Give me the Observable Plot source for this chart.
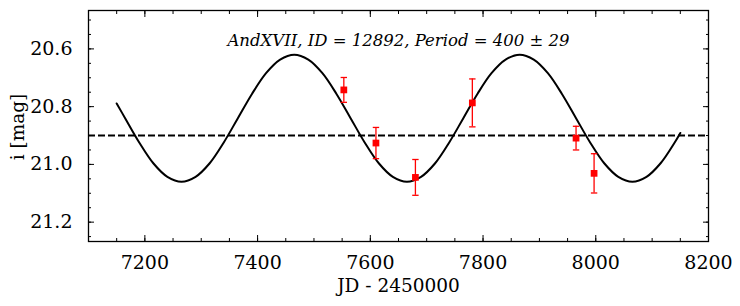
<!DOCTYPE html>
<html>
<head>
<meta charset="utf-8">
<script src="https://cdn.jsdelivr.net/npm/d3@7"></script>
<script src="https://cdn.jsdelivr.net/npm/@observablehq/plot@0.6"></script>
<style>
  html, body { margin: 0; padding: 0; background: #fff; }
  #chart { width: 740px; height: 306px; }
  #chart svg, #chart svg text { font-family: "DejaVu Serif", serif !important; }
</style>
</head>
<body>
<div id="chart"></div>
<script>
// Observations (JD - 2450000, i mag, error)
const obsJD  = [7553, 7610, 7680, 7781, 7965, 7997];
const obsMag = [20.742, 20.926, 21.045, 20.787, 20.909, 21.031];
const obsErr = [0.043, 0.054, 0.062, 0.083, 0.041, 0.068];

// Model curve
const curveJD = [7150, 7165, 7190, 7215, 7240, 7265, 7290, 7315, 7340, 7365, 7390, 7415, 7440, 7465, 7490, 7515, 7540, 7565, 7590, 7615, 7640, 7665, 7690, 7715, 7740, 7765, 7790, 7815, 7840, 7865, 7890, 7915, 7940, 7965, 7990, 8015, 8040, 8065, 8090, 8115, 8140, 8150];
const curveMag = [20.789, 20.840, 20.924, 20.996, 21.043, 21.060, 21.043, 20.996, 20.924, 20.840, 20.756, 20.684, 20.637, 20.620, 20.637, 20.684, 20.756, 20.840, 20.924, 20.996, 21.043, 21.060, 21.043, 20.996, 20.924, 20.840, 20.756, 20.684, 20.637, 20.620, 20.637, 20.684, 20.756, 20.840, 20.924, 20.996, 21.043, 21.060, 21.043, 20.996, 20.924, 20.891];

const meanMag = [20.9];

const xMajor = [7200, 7400, 7600, 7800, 8000, 8200];
const xMinor = [7100, 7150, 7200, 7250, 7300, 7350, 7400, 7450, 7500, 7550, 7600, 7650, 7700, 7750, 7800, 7850, 7900, 7950, 8000, 8050, 8100, 8150, 8200];
const yMajor = [20.6, 20.8, 21.0, 21.2];
const yMinor = [20.5, 20.55, 20.6, 20.65, 20.7, 20.75, 20.8, 20.85, 20.9, 20.95, 21.0, 21.05, 21.1, 21.15, 21.2, 21.25];

const titleText = "AndXVII, ID = 12892, Period = 400 ± 29";
const xLabel = "JD - 2450000";
const yLabel = "i [mag]";

const obs = obsJD.map((x, i) => ({x, y: obsMag[i], e: obsErr[i]}));
const curve = curveJD.map((x, i) => ({x, y: curveMag[i]}));

const noText = () => "";
// horizontal cap symbol for error bars
const capSymbol = {draw(ctx) { ctx.moveTo(-3.2, 0); ctx.lineTo(3.2, 0); }};

const plot = Plot.plot({
  width: 740,
  height: 306,
  marginLeft: 88,
  marginRight: 32,
  marginTop: 10,
  marginBottom: 65,
  style: {fontFamily: "'DejaVu Serif', serif", fontSize: "18px", color: "black", background: "white"},
  x: {type: "linear", domain: [7100, 8200]},
  y: {type: "linear", domain: [20.467, 21.267], reverse: true},
  marks: [
    // minor ticks
    Plot.axisX(xMinor, {anchor: "bottom", tickSize: -3, tickFormat: noText, label: null, strokeWidth: 1}),
    Plot.axisX(xMinor, {anchor: "top", tickSize: -3, tickFormat: noText, label: null, strokeWidth: 1}),
    Plot.axisY(yMinor, {anchor: "left", tickSize: -3, tickFormat: noText, label: null, strokeWidth: 1}),
    Plot.axisY(yMinor, {anchor: "right", tickSize: -3, tickFormat: noText, label: null, strokeWidth: 1}),
    // major ticks
    Plot.axisX(xMajor, {anchor: "bottom", tickSize: -6, tickFormat: noText, label: null, strokeWidth: 1}),
    Plot.axisX(xMajor, {anchor: "top", tickSize: -6, tickFormat: noText, label: null, strokeWidth: 1}),
    Plot.axisY(yMajor, {anchor: "left", tickSize: -6, tickFormat: noText, label: null, strokeWidth: 1}),
    Plot.axisY(yMajor, {anchor: "right", tickSize: -6, tickFormat: noText, label: null, strokeWidth: 1}),
    // tick labels
    Plot.axisX(xMajor, {anchor: "bottom", tickSize: 0, tickPadding: 14, tickFormat: d => String(d), label: null, fontSize: 19}),
    Plot.axisY(yMajor, {anchor: "left", tickSize: 0, tickPadding: 16, tickFormat: d => d.toFixed(1), label: null, fontSize: 19}),
    // mean line
    Plot.ruleY(meanMag, {stroke: "black", strokeWidth: 2, strokeDasharray: "7,3"}),
    // model
    Plot.line(curve, {x: "x", y: "y", stroke: "black", strokeWidth: 2, curve: "catmull-rom"}),
    // error bars
    Plot.ruleX(obs, {x: "x", y1: d => d.y - d.e, y2: d => d.y + d.e, stroke: "#ff0000", strokeWidth: 1.3}),
    Plot.dot(obs, {x: "x", y: d => d.y - d.e, symbol: capSymbol, r: 4, fill: "none", stroke: "#ff0000", strokeWidth: 1.3}),
    Plot.dot(obs, {x: "x", y: d => d.y + d.e, symbol: capSymbol, r: 4, fill: "none", stroke: "#ff0000", strokeWidth: 1.3}),
    Plot.dot(obs, {x: "x", y: "y", symbol: "square", r: 3.8, fill: "#ff0000", stroke: "none"}),
    Plot.frame({stroke: "black", strokeWidth: 1.3}),
    // title
    Plot.text([titleText], {frameAnchor: "top", dy: 24, text: d => d, fontStyle: "italic", fontSize: 16.5, fill: "black"}),
    // axis labels
    Plot.text([xLabel], {frameAnchor: "bottom", dy: 50, text: d => d, fontSize: 18.5, fill: "black"}),
    Plot.text([yLabel], {frameAnchor: "left", textAnchor: "middle", dx: -70, dy: 1, rotate: -90, text: d => d, fontSize: 18.5, fill: "black"})
  ]
});

document.getElementById("chart").appendChild(plot);
</script>
</body>
</html>
